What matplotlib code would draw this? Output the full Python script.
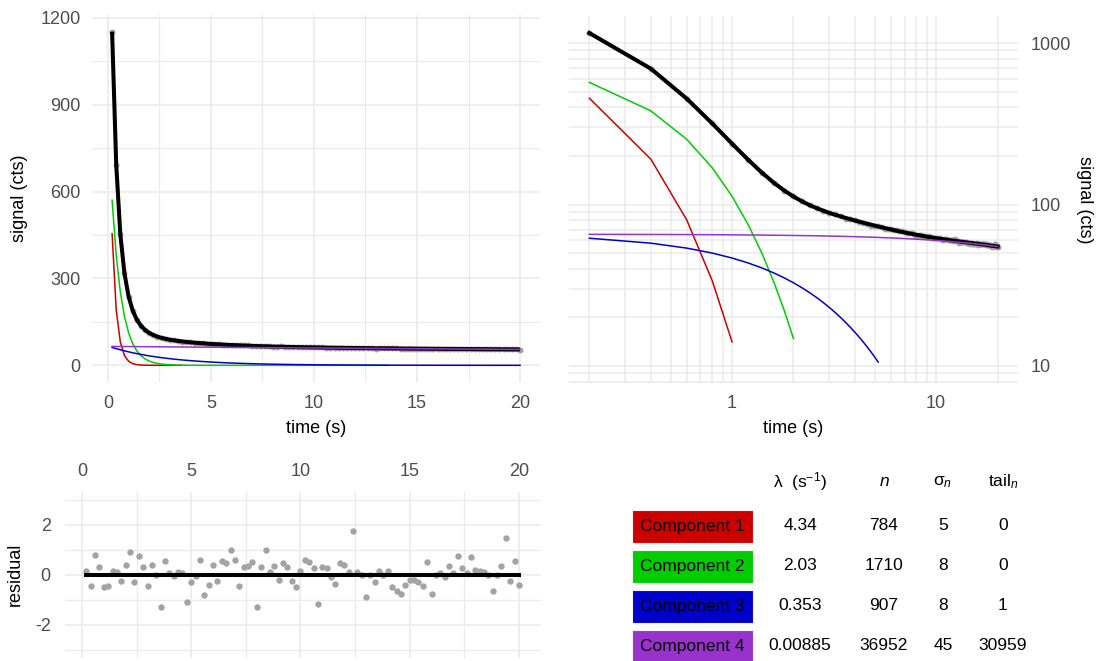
import numpy as np
import matplotlib
matplotlib.use("Agg")
import matplotlib.pyplot as plt
from matplotlib.patches import Rectangle
from matplotlib.ticker import FixedLocator, NullFormatter, FuncFormatter

plt.rcParams['font.family'] = ['Liberation Sans', 'DejaVu Sans']
plt.rcParams['mathtext.fontset'] = 'custom'
plt.rcParams['mathtext.rm'] = 'Liberation Sans'
plt.rcParams['mathtext.it'] = 'Liberation Sans:italic'
plt.rcParams['mathtext.sf'] = 'Liberation Sans'
plt.rcParams['axes.unicode_minus'] = False

# ---------------- data ----------------
time_s = [0.2, 0.4, 0.6, 0.8, 1.0, 1.2, 1.4, 1.6, 1.8, 2.0,
          2.2, 2.4, 2.6, 2.8, 3.0, 3.2, 3.4, 3.6, 3.8, 4.0,
          4.2, 4.4, 4.6, 4.8, 5.0, 5.2, 5.4, 5.6, 5.8, 6.0,
          6.2, 6.4, 6.6, 6.8, 7.0, 7.2, 7.4, 7.6, 7.8, 8.0,
          8.2, 8.4, 8.6, 8.8, 9.0, 9.2, 9.4, 9.6, 9.8, 10.0,
          10.2, 10.4, 10.6, 10.8, 11.0, 11.2, 11.4, 11.6, 11.8, 12.0,
          12.2, 12.4, 12.6, 12.8, 13.0, 13.2, 13.4, 13.6, 13.8, 14.0,
          14.2, 14.4, 14.6, 14.8, 15.0, 15.2, 15.4, 15.6, 15.8, 16.0,
          16.2, 16.4, 16.6, 16.8, 17.0, 17.2, 17.4, 17.6, 17.8, 18.0,
          18.2, 18.4, 18.6, 18.8, 19.0, 19.2, 19.4, 19.6, 19.8, 20.0]

comp1_signal = [454.9, 191.0, 80.2, 33.7, 14.1, 5.93, 2.49, 1.05, 0.439, 0.184,
                0.0773, 0.0325, 0.0136, 0.0057, 0.0024, 0.0010, 0.00042, 0.00018]

comp2_signal = [570.6, 380.2, 253.3, 168.8, 112.5, 74.95, 49.94, 33.27, 22.17, 14.77,
                9.84, 6.56, 4.37, 2.91, 1.94, 1.29, 0.861, 0.574, 0.382, 0.255,
                0.170, 0.113, 0.0753, 0.0502, 0.0334, 0.0223, 0.0148, 0.0099, 0.0066, 0.0044,
                0.0, 0.0, 0.0, 0.0, 0.0, 0.0, 0.0, 0.0, 0.0, 0.0,
                0.0, 0.0, 0.0, 0.0, 0.0, 0.0, 0.0, 0.0, 0.0, 0.0,
                0.0, 0.0, 0.0, 0.0, 0.0, 0.0, 0.0, 0.0, 0.0, 0.0,
                0.0, 0.0, 0.0, 0.0, 0.0, 0.0, 0.0, 0.0]

comp3_signal = [61.83, 57.61, 53.69, 50.03, 46.62, 43.44, 40.48, 37.72, 35.15, 32.75,
                30.52, 28.44, 26.50, 24.69, 23.01, 21.44, 19.98, 18.62, 17.35, 16.17,
                15.07, 14.04, 13.08, 12.19, 11.36, 10.58, 9.86, 9.19, 8.56, 7.98,
                7.43, 6.93, 6.46, 6.02, 5.61, 5.22, 4.87, 4.54, 4.23, 3.94,
                3.67, 3.42, 3.19, 2.97, 2.77, 2.58, 2.40, 2.24, 2.09, 1.94,
                1.81, 1.69, 1.57, 1.47, 1.37, 1.27, 1.19, 1.11, 1.03, 0.96,
                0.89, 0.83, 0.78, 0.72, 0.68, 0.63, 0.59, 0.55, 0.51, 0.47,
                0.44, 0.41, 0.38, 0.36, 0.33, 0.31, 0.29, 0.27, 0.25, 0.23,
                0.22, 0.20, 0.19, 0.18, 0.16, 0.15, 0.14, 0.13, 0.12, 0.12,
                0.11, 0.10, 0.09, 0.09, 0.08, 0.08, 0.07, 0.07, 0.06, 0.06]

comp4_signal = [65.35, 65.23, 65.12, 65.00, 64.89, 64.77, 64.66, 64.54, 64.43, 64.31,
                64.20, 64.09, 63.98, 63.86, 63.75, 63.64, 63.53, 63.42, 63.30, 63.19,
                63.08, 62.97, 62.86, 62.75, 62.64, 62.53, 62.41, 62.30, 62.19, 62.08,
                61.97, 61.86, 61.75, 61.64, 61.53, 61.42, 61.32, 61.21, 61.10, 60.99,
                60.88, 60.77, 60.67, 60.56, 60.45, 60.34, 60.24, 60.13, 60.02, 59.92,
                59.81, 59.71, 59.60, 59.50, 59.39, 59.29, 59.19, 59.08, 58.98, 58.87,
                58.77, 58.66, 58.56, 58.46, 58.35, 58.25, 58.15, 58.04, 57.94, 57.83,
                57.73, 57.63, 57.53, 57.43, 57.33, 57.23, 57.12, 57.02, 56.92, 56.82,
                56.72, 56.62, 56.52, 56.42, 56.32, 56.22, 56.12, 56.02, 55.93, 55.83,
                55.73, 55.63, 55.53, 55.44, 55.34, 55.24, 55.14, 55.05, 54.95, 54.85]

fit_total = [1152.7, 694.0, 452.3, 317.5, 238.1, 189.1, 157.6, 136.6, 122.2, 112.0,
             104.6, 99.1, 94.9, 91.5, 88.7, 86.4, 84.4, 82.6, 81.0, 79.6,
             78.3, 77.1, 76.0, 75.0, 74.0, 73.1, 72.3, 71.5, 70.8, 70.1,
             69.4, 68.8, 68.2, 67.7, 67.1, 66.6, 66.2, 65.8, 65.3, 64.9,
             64.6, 64.2, 63.9, 63.5, 63.2, 62.9, 62.6, 62.4, 62.1, 61.9,
             61.6, 61.4, 61.2, 61.0, 60.8, 60.6, 60.4, 60.2, 60.0, 59.8,
             59.7, 59.5, 59.3, 59.2, 59.0, 58.9, 58.7, 58.6, 58.5, 58.3,
             58.2, 58.0, 57.9, 57.8, 57.7, 57.5, 57.4, 57.3, 57.2, 57.1,
             56.9, 56.8, 56.7, 56.6, 56.5, 56.4, 56.3, 56.2, 56.0, 55.9,
             55.8, 55.7, 55.6, 55.5, 55.4, 55.3, 55.2, 55.1, 55.0, 54.9]

signal_obs = [1152.9, 693.6, 453.1, 317.8, 237.6, 188.7, 157.8, 136.7, 122.0, 112.4,
              105.5, 98.8, 95.7, 91.8, 88.3, 86.8, 84.4, 81.3, 81.6, 79.7,
              78.3, 77.2, 76.1, 73.9, 73.7, 73.1, 72.9, 70.7, 70.4, 70.5,
              69.2, 69.4, 68.7, 68.7, 67.7, 66.2, 66.5, 66.2, 65.8, 63.6,
              64.9, 65.2, 64.0, 63.9, 63.0, 63.4, 62.9, 62.2, 61.6, 62.1,
              62.2, 61.9, 61.5, 59.9, 61.1, 60.9, 60.3, 59.9, 60.5, 60.2,
              59.8, 61.3, 59.4, 59.2, 58.1, 58.9, 58.4, 58.8, 58.5, 58.5,
              57.7, 57.4, 57.2, 57.4, 57.5, 57.3, 57.1, 56.9, 57.7, 56.4,
              56.9, 56.9, 56.6, 57.0, 56.6, 57.2, 56.6, 56.3, 56.7, 56.1,
              56.0, 55.8, 55.6, 54.9, 55.4, 55.7, 56.7, 54.9, 55.6, 54.5]

residual = [0.15, -0.45, 0.8, 0.3, -0.5, -0.45, 0.15, 0.1, -0.25, 0.4,
            0.9, -0.3, 0.75, 0.3, -0.45, 0.4, 0.0, -1.3, 0.55, 0.05,
            -0.05, 0.1, 0.05, -1.1, -0.3, -0.05, 0.6, -0.8, -0.4, 0.4,
            -0.25, 0.55, 0.45, 1.0, 0.6, -0.45, 0.3, 0.35, 0.5, -1.3,
            0.3, 1.0, 0.1, 0.35, -0.2, 0.45, 0.3, -0.25, -0.5, 0.15,
            0.6, 0.5, 0.25, -1.15, 0.3, 0.25, -0.1, -0.35, 0.45, 0.4,
            0.1, 1.75, 0.1, 0.0, -0.9, 0.0, -0.3, 0.15, 0.0, 0.15,
            -0.5, -0.65, -0.75, -0.4, -0.2, -0.2, -0.3, -0.45, 0.5, -0.75,
            0.0, 0.05, -0.1, 0.35, 0.05, 0.75, 0.25, 0.05, 0.7, 0.2,
            0.15, 0.1, 0.0, -0.65, 0.0, 0.35, 1.45, -0.25, 0.55, -0.4]

comp_names = ["Component 1", "Component 2", "Component 3", "Component 4"]
comp_colors = ["#CD0000", "#00CD00", "#0000CD", "#9932CC"]
lambda_labels = ["4.34", "2.03", "0.353", "0.00885"]
n_labels = ["784", "1710", "907", "36952"]
sigma_labels = ["5", "8", "8", "45"]
tail_labels = ["0", "0", "1", "30959"]
header_labels = ["λ  (s$^{-1}$)", "$n$", "σ$_{n}$", "tail$_{n}$"]

log_floor = 10.0

# ---------------- style ----------------
W, H = 1097, 661
GRID = "#EBEBEB"
TICK = "#4D4D4D"
PTS = "#A3A3A3"
FS_TICK = 13
FS_LAB = 13
FS_TAB = 12.5

fig = plt.figure(figsize=(W / 100, H / 100), dpi=100)


def px_axes(x0, y0, x1, y1):
    return fig.add_axes([x0 / W, 1 - y1 / H, (x1 - x0) / W, (y1 - y0) / H])


def clean(ax):
    for s in ax.spines.values():
        s.set_visible(False)
    ax.set_facecolor("white")
    ax.set_axisbelow(True)


t = np.array(time_s)
components = [np.array(comp1_signal), np.array(comp2_signal),
              np.array(comp3_signal), np.array(comp4_signal)]

# ---- top-left: linear ----
ax1 = px_axes(91.7, 15, 540.4, 382)
clean(ax1)
ax1.set_xlim(-0.79, 20.99)
ax1.set_ylim(-57.6, 1210.3)
ax1.xaxis.set_major_locator(FixedLocator([0, 5, 10, 15, 20]))
ax1.xaxis.set_minor_locator(FixedLocator([2.5, 7.5, 12.5, 17.5]))
ax1.yaxis.set_major_locator(FixedLocator([0, 300, 600, 900, 1200]))
ax1.yaxis.set_minor_locator(FixedLocator([150, 450, 750, 1050]))
ax1.grid(which="major", color=GRID, lw=1.2)
ax1.grid(which="minor", color=GRID, lw=0.9)
ax1.tick_params(which="both", length=0, labelsize=FS_TICK, labelcolor=TICK)
ax1.tick_params(axis="x", pad=9)
ax1.tick_params(axis="y", pad=8)
ax1.plot(t, signal_obs, "o", color=PTS, ms=4.3, mec="none", zorder=2)
ax1.plot(t, fit_total, color="black", lw=2.9, zorder=3, solid_capstyle="butt")
for c, col in zip(components, comp_colors):
    ax1.plot(t[:len(c)], c, color=col, lw=1.1, zorder=4)
ax1.set_xlabel("time (s)", fontsize=FS_LAB)
ax1.set_ylabel("signal (cts)", fontsize=FS_LAB)
ax1.xaxis.set_label_coords(0.5, -0.104)
ax1.yaxis.set_label_coords(-0.141, 0.5)

# ---- top-right: log-log ----
ax2 = px_axes(569, 16.4, 1018, 382.6)
clean(ax2)
ax2.set_xscale("log")
ax2.set_yscale("log")
ax2.set_xlim(0.1589, 25.18)
ax2.set_ylim(7.89, 1462)
ax2.xaxis.set_major_locator(FixedLocator([1, 10]))
ax2.xaxis.set_minor_locator(FixedLocator([0.2, 0.3, 0.4, 0.5, 0.6, 0.7, 0.8, 0.9,
                                          2, 3, 4, 5, 6, 7, 8, 9, 20]))
ax2.yaxis.set_major_locator(FixedLocator([10, 100, 1000]))
ax2.yaxis.set_minor_locator(FixedLocator([8, 9, 20, 30, 40, 50, 60, 70, 80, 90,
                                          200, 300, 400, 500, 600, 700, 800, 900]))
ax2.xaxis.set_major_formatter(FuncFormatter(lambda v, p: f"{v:g}"))
ax2.yaxis.set_major_formatter(FuncFormatter(lambda v, p: f"{v:g}"))
ax2.xaxis.set_minor_formatter(NullFormatter())
ax2.yaxis.set_minor_formatter(NullFormatter())
ax2.grid(which="both", color=GRID, lw=1.1)
ax2.yaxis.tick_right()
ax2.yaxis.set_label_position("right")
ax2.tick_params(which="both", length=0, labelsize=FS_TICK, labelcolor=TICK)
ax2.tick_params(axis="x", pad=9)
ax2.tick_params(axis="y", pad=9)
ax2.plot(t, signal_obs, "o", color=PTS, ms=4.3, mec="none", zorder=2)
ax2.plot(t, fit_total, color="black", lw=2.9, zorder=3)
for c, col in zip(components, comp_colors):
    keep = c >= log_floor
    ax2.plot(t[:len(c)][keep], c[keep], color=col, lw=1.1, zorder=4)
ax2.set_xlabel("time (s)", fontsize=FS_LAB)
ax2.set_ylabel("signal (cts)", fontsize=FS_LAB, rotation=270, va="center")
ax2.xaxis.set_label_coords(0.5, -0.103)
ax2.yaxis.set_label_coords(1.149, 0.5)

# ---- bottom-left: residuals ----
ax3 = px_axes(64.7, 492, 540.6, 657.5)
clean(ax3)
ax3.set_xlim(-0.79, 20.99)
ax3.set_ylim(-3.3, 3.3)
ax3.xaxis.set_major_locator(FixedLocator([0, 5, 10, 15, 20]))
ax3.xaxis.set_minor_locator(FixedLocator([2.5, 7.5, 12.5, 17.5]))
ax3.yaxis.set_major_locator(FixedLocator([-2, 0, 2]))
ax3.yaxis.set_minor_locator(FixedLocator([-3, -1, 1, 3]))
ax3.grid(which="major", color=GRID, lw=1.2)
ax3.grid(which="minor", color=GRID, lw=0.9)
ax3.xaxis.tick_top()
ax3.tick_params(which="both", length=0, labelsize=FS_TICK, labelcolor=TICK)
ax3.tick_params(axis="x", pad=9)
ax3.tick_params(axis="y", pad=10)
ax3.plot(t, residual, "o", color=PTS, ms=4.6, mec="none", zorder=2)
ax3.plot([t[0], t[-1]], [0, 0], color="black", lw=2.9, zorder=3)
ax3.set_ylabel("residual", fontsize=FS_LAB)
ax3.yaxis.set_label_coords(-0.085, 0.5)

# ---- bottom-right: table ----
col_x = [800, 884, 943, 1003]
header_y = 482
row_y = [526, 566, 606, 646]
box_x0, box_x1 = 632, 753
box_h = 33

for lab, cx in zip(header_labels, col_x):
    fig.text(cx / W, 1 - header_y / H, lab, ha="center", va="center",
             fontsize=FS_TAB, color="black")

for i in range(len(comp_names)):
    y = row_y[i]
    fig.add_artist(Rectangle((box_x0 / W, 1 - (y + box_h / 2) / H),
                             (box_x1 - box_x0) / W, box_h / H,
                             transform=fig.transFigure, facecolor=comp_colors[i],
                             edgecolor="#F2F2F2", lw=0.8))
    fig.text((box_x0 + box_x1) / 2 / W, 1 - y / H, comp_names[i], ha="center",
             va="center", fontsize=FS_TAB, color="black")
    for val, cx in zip([lambda_labels[i], n_labels[i], sigma_labels[i], tail_labels[i]], col_x):
        fig.text(cx / W, 1 - y / H, val, ha="center", va="center",
                 fontsize=FS_TAB, color="black")

fig.savefig("out.png", dpi=100, facecolor="white")
